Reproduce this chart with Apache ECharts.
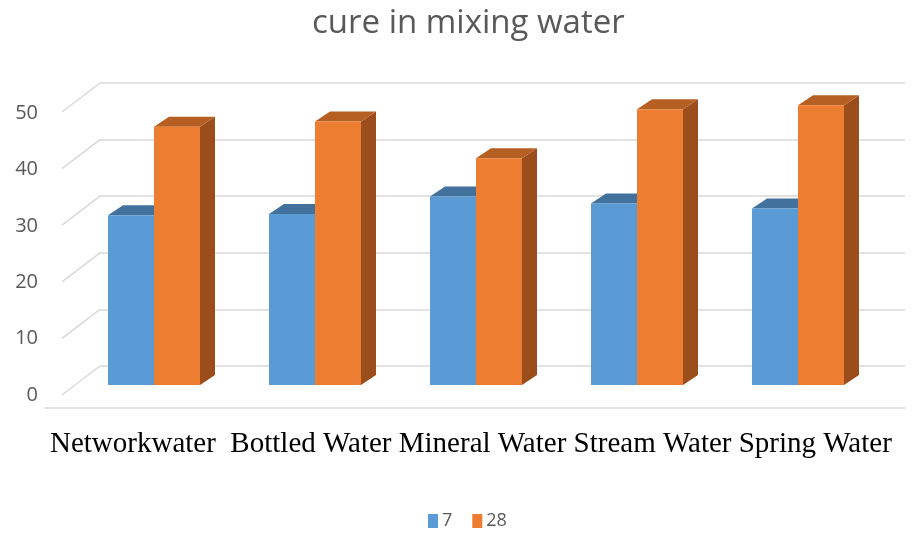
<!DOCTYPE html>
<html>
<head>
<meta charset="utf-8">
<script src="https://cdn.jsdelivr.net/npm/echarts@6/dist/echarts.min.js"></script>
<style>
  html, body { margin: 0; padding: 0; background: #fff; }
  #main { width: 914px; height: 534px; }
</style>
</head>
<body>
<div id="main"></div>
<script>
var categories = ['Networkwater ', 'Bottled Water', 'Mineral Water', 'Stream Water', 'Spring Water'];
var seriesNames = ['7', '28'];
var values7 = [30.1, 30.3, 33.4, 32.2, 31.3];
var values28 = [45.8, 46.7, 40.2, 48.9, 49.6];
var ticks = [0, 10, 20, 30, 40, 50];

var faceColors = ['#5b9bd5', '#ed7d31'];
var topColors = ['#41719c', '#b65f22'];
var sideColors = ['#3d6d99', '#9b4d1b'];
var depthX = 15, depthY = 10;

var myChart = echarts.init(document.getElementById('main'));

// one 3d-looking column; side 0 = left of the category centre, 1 = right
function bar3d(side) {
    return function (params, api) {
        var idx = api.value(0);
        var base = api.coord([idx, 0]);
        var top = api.coord([idx, api.value(1)]);
        var w = api.size([1, 0])[0] * 0.2857;
        var x0 = side === 0 ? base[0] - w : base[0];
        var x1 = x0 + w;
        return {
            type: 'group',
            children: [
                {
                    type: 'polygon',
                    shape: { points: [[x1, top[1]], [x1 + depthX, top[1] - depthY], [x1 + depthX, base[1] - depthY], [x1, base[1]]] },
                    style: { fill: sideColors[side] }
                },
                {
                    type: 'polygon',
                    shape: { points: [[x0, top[1]], [x0 + depthX, top[1] - depthY], [x1 + depthX, top[1] - depthY], [x1, top[1]]] },
                    style: { fill: topColors[side] }
                },
                {
                    type: 'rect',
                    shape: { x: x0, y: top[1], width: w, height: base[1] - top[1] },
                    style: { fill: faceColors[side] }
                }
            ]
        };
    };
}

// diagonal floor/side lines joining the front labels to the back wall
function sideLine(params, api) {
    var p = api.coord([0, api.value(1)]);
    var x = params.coordSys.x;
    return {
        type: 'line',
        shape: { x1: x - 38, y1: p[1] + 29, x2: x, y2: p[1] },
        style: { stroke: '#d9d9d9', lineWidth: 1.5 }
    };
}

option = {
    animation: false,
    title: [{
        text: 'cure in mixing water',
        left: 307,
        top: 2,
        textStyle: { fontFamily: 'Open Sans', fontSize: 33, fontWeight: 'normal', color: '#595959' }
    }, {
        text: categories.join(' '),
        left: 45,
        top: 425,
        textStyle: { fontFamily: 'Liberation Serif', fontSize: 29, fontWeight: 'normal', color: '#000' }
    }],
    legend: {
        data: seriesNames,
        top: 507,
        left: 423,
        itemWidth: 10,
        itemHeight: 14,
        itemGap: 20,
        icon: 'rect',
        textStyle: { fontFamily: 'Open Sans', fontSize: 18, color: '#595959', padding: [0, 0, 0, -1] }
    },
    grid: [
        { left: 100, right: 9, top: 83, height: 283 },      // back wall
        { left: 73.5, right: 35.5, top: 103, height: 282 }, // bar front plane
        { left: 62, right: 9, top: 113, height: 282 },      // front labels
        { left: 45, right: 9, top: 400, height: 8 }         // front base line
    ],
    xAxis: [
        { gridIndex: 0, type: 'value', min: 0, max: 1, show: false },
        { gridIndex: 1, type: 'category', data: categories, show: false },
        { gridIndex: 2, type: 'value', show: false },
        { gridIndex: 3, type: 'value', min: 0, max: 1, axisLine: { show: true, lineStyle: { color: '#d9d9d9', width: 1.5 } },
          axisTick: { show: false }, axisLabel: { show: false }, splitLine: { show: false } }
    ],
    yAxis: [
        { gridIndex: 0, type: 'value', min: 0, max: 50, interval: 10,
          axisLine: { show: false }, axisTick: { show: false }, axisLabel: { show: false },
          splitLine: { lineStyle: { color: '#d9d9d9', width: 1.5 } } },
        { gridIndex: 1, type: 'value', min: 0, max: 50, interval: 10, show: false },
        { gridIndex: 2, type: 'value', min: 0, max: 50, interval: 10,
          axisLine: { show: false }, axisTick: { show: false }, splitLine: { show: false },
          axisLabel: { margin: 24, fontFamily: 'Open Sans', fontSize: 20, color: '#595959' } },
        { gridIndex: 3, type: 'value', show: false }
    ],
    series: [
        {
            type: 'custom',
            xAxisIndex: 0, yAxisIndex: 0,
            renderItem: sideLine,
            data: ticks.map(function (t) { return [0, t]; }),
            encode: { x: 0, y: 1 },
            silent: true
        },
        {
            name: seriesNames[0],
            type: 'custom',
            xAxisIndex: 1, yAxisIndex: 1,
            renderItem: bar3d(0),
            itemStyle: { color: faceColors[0] },
            encode: { x: 0, y: 1 },
            data: values7.map(function (v, i) { return [i, v]; })
        },
        {
            name: seriesNames[1],
            type: 'custom',
            xAxisIndex: 1, yAxisIndex: 1,
            renderItem: bar3d(1),
            itemStyle: { color: faceColors[1] },
            encode: { x: 0, y: 1 },
            data: values28.map(function (v, i) { return [i, v]; })
        }
    ]
};

myChart.setOption(option);
</script>
</body>
</html>
